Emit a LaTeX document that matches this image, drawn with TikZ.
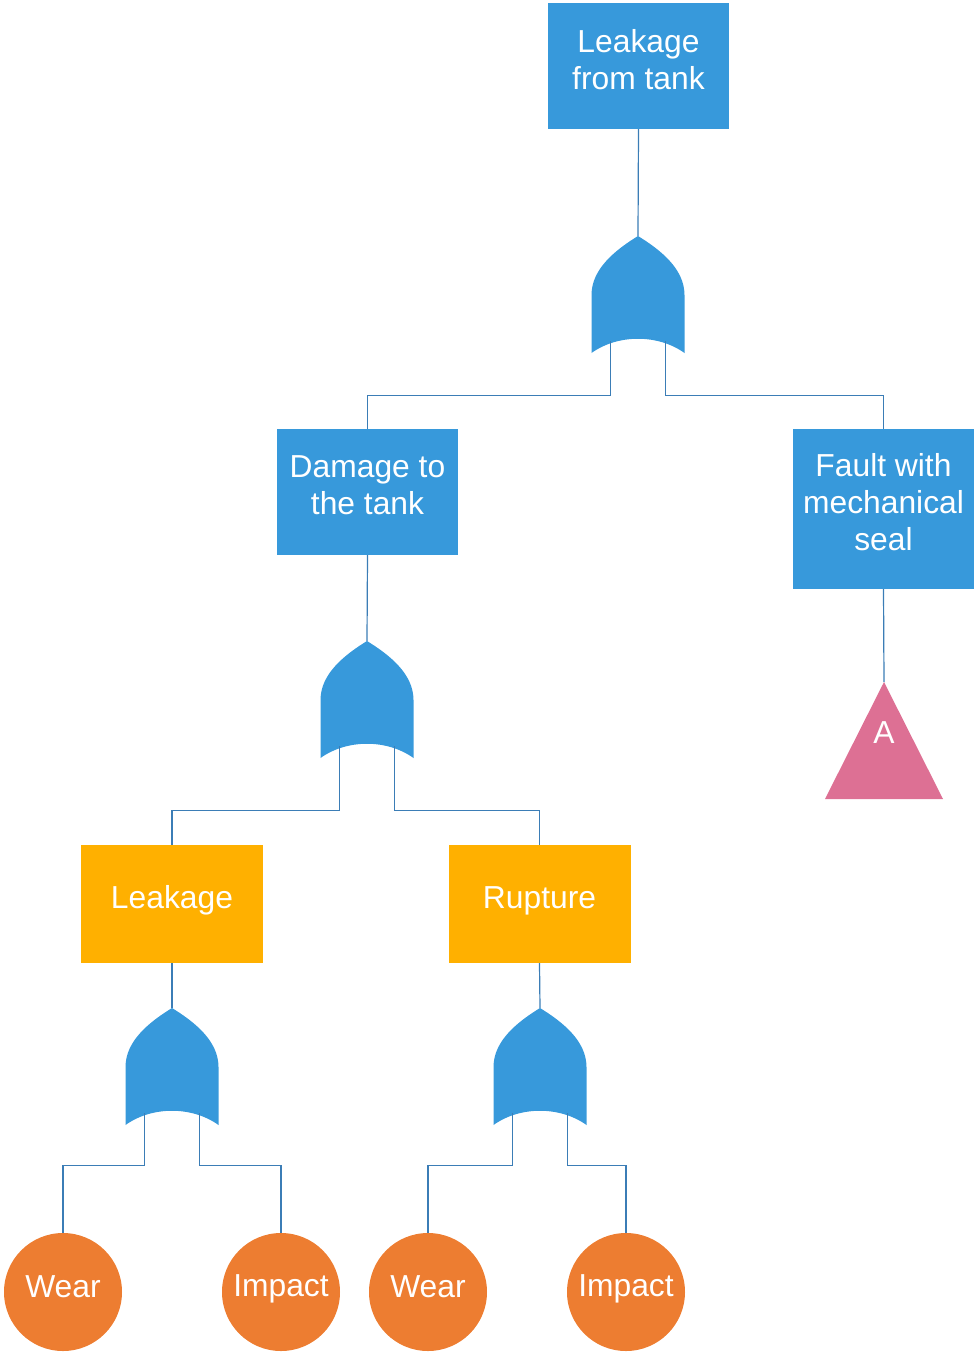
\documentclass[tikz,border=0pt]{standalone}
\usepackage{fontspec}
\setmainfont{Liberation Sans}
\definecolor{evblue}{HTML}{3799DB}
\definecolor{evyellow}{HTML}{FFB000}
\definecolor{basicorange}{HTML}{ED7D31}
\definecolor{xferpink}{HTML}{DD7094}
\definecolor{wire}{HTML}{3B7DB6}
\tikzset{
  txt/.style={text=white, font=\fontsize{31.8}{37}\selectfont, align=center, inner sep=0pt},
  event/.style={fill=evblue, minimum width=181pt, minimum height=126pt, inner sep=0pt},
  subevent/.style={fill=evyellow, minimum width=182pt, minimum height=118pt, inner sep=0pt},
  basic/.style={circle, fill=basicorange, minimum size=118pt, inner sep=0pt},
  conn/.style={draw=wire, line width=1.2pt},
  orgate/.pic={
    \fill[evblue] (-46.5,-117) -- (-46.5,-59)
      .. controls (-46.5,-32) and (-21,-13) .. (0,0)
      .. controls (21,-13) and (46.5,-32) .. (46.5,-59)
      -- (46.5,-117)
      .. controls (20,-98) and (-20,-98) .. cycle;
    \coordinate (-apex) at (0,0);
    \coordinate (-in1) at (-27.5,-105);
    \coordinate (-in2) at (27.5,-105);
  }
}
\begin{document}
\begin{tikzpicture}[x=1pt,y=1pt]
\useasboundingbox (0,0) rectangle (974,-1353);

% event boxes
\node[event] (top) at (638.5,-66) {};
\node[event] (damage) at (367.5,-492) {};
\node[event, minimum height=160pt] (fault) at (883.5,-509) {};
\node[subevent] (leak) at (172,-904) {};
\node[subevent] (rupt) at (539.5,-904) {};

% basic events
\node[basic] (wear1) at (63,-1292) {};
\node[basic] (imp1) at (281,-1292) {};
\node[basic] (wear2) at (428,-1292) {};
\node[basic] (imp2) at (626,-1292) {};

% labels, set slightly above the geometric centre
\node[txt] (topT) at ([yshift=6.5pt]top.center) {Leakage\\from tank};
\node[txt] (damageT) at ([yshift=6.5pt]damage.center) {Damage to\\the tank};
\node[txt] (faultT) at ([yshift=7pt]fault.center) {Fault with\\mechanical\\seal};
\node[txt] (leakT) at ([yshift=3.5pt]leak.center) {Leakage};
\node[txt] (ruptT) at ([yshift=3.5pt]rupt.center) {Rupture};
\node[txt] (wear1T) at ([yshift=5pt]wear1.center) {Wear};
\node[txt] (imp1T) at ([yshift=3pt]imp1.center) {Impact};
\node[txt] (wear2T) at ([yshift=5pt]wear2.center) {Wear};
\node[txt] (imp2T) at ([yshift=3pt]imp2.center) {Impact};

% connectors (drawn beneath the gates)
\coordinate (g1a) at (638,-236);
\coordinate (g2a) at (367,-641);
\coordinate (g3a) at (172,-1008);
\coordinate (g4a) at (540,-1008);
\coordinate (xfer) at (884,-682);

\draw[conn] (top.south) -- (g1a);
\draw[conn] (damage.south) -- (g2a);
\draw[conn] (leak.south) -- (g3a);
\draw[conn] (rupt.south) -- (g4a);
\draw[conn] (fault.south) -- (xfer);

% OR gates
\pic (g1) at (g1a) {orgate};
\pic (g2) at (g2a) {orgate};
\pic (g3) at (g3a) {orgate};
\pic (g4) at (g4a) {orgate};

\draw[conn] (g1-in1) |- ([yshift=33pt]damage.north) -- (damage.north);
\draw[conn] (g1-in2) |- ([yshift=33pt]fault.north) -- (fault.north);
\draw[conn] (g2-in1) |- ([yshift=34pt]leak.north) -- (leak.north);
\draw[conn] (g2-in2) |- ([yshift=34pt]rupt.north) -- (rupt.north);
\draw[conn] (g3-in1) |- ([yshift=67pt]wear1.north) -- (wear1.north);
\draw[conn] (g3-in2) |- ([yshift=67pt]imp1.north) -- (imp1.north);
\draw[conn] (g4-in1) |- ([yshift=67pt]wear2.north) -- (wear2.north);
\draw[conn] (g4-in2) |- ([yshift=67pt]imp2.north) -- (imp2.north);

% transfer symbol
\fill[xferpink] (xfer) -- (943,-799) -- (825,-799) -- cycle;
\node[txt] (xferlabel) at (884,-733) {A};
\end{tikzpicture}
\end{document}
